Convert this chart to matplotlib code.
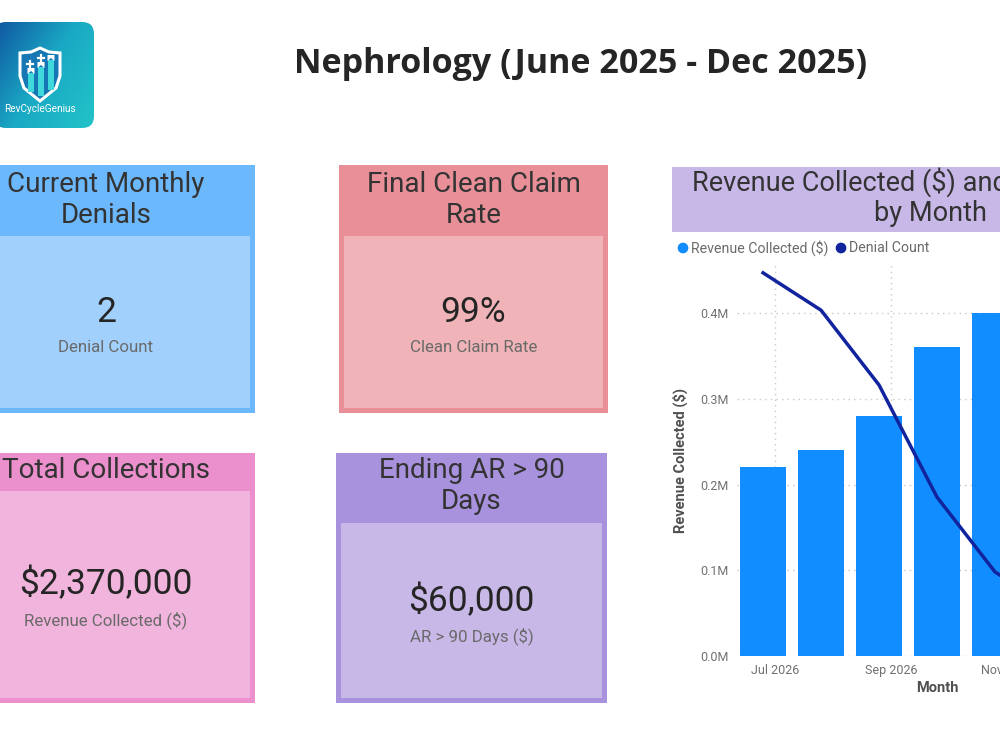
import numpy as np
import matplotlib
matplotlib.use('Agg')
import matplotlib.pyplot as plt
from matplotlib.patches import Rectangle, FancyBboxPatch, Polygon

# data
months        = ["Jul 2026", "Aug 2026", "Sep 2026", "Oct 2026",
                 "Nov 2026", "Dec 2026", "Jan 2027"]
revenue       = [220000, 240000, 280000, 360000, 400000, 420000, 450000]
denials       = [12, 11, 9, 6, 4, 3, 2]
tick_months   = ["Jul 2026", "Sep 2026", "Nov 2026", "Jan 2027"]
ytick_vals    = [0, 100000, 200000, 300000, 400000]
ytick_labels  = ["0.0M", "0.1M", "0.2M", "0.3M", "0.4M"]

card_titles = ["Current Monthly\nDenials", "Final Clean Claim\nRate",
               "Total Collections", "Ending AR > 90\nDays"]
card_values = ["2", "99%", "$2,370,000", "$60,000"]
card_subs   = ["Denial Count", "Clean Claim Rate",
               "Revenue Collected ($)", "AR > 90 Days ($)"]

BAR_COL  = '#118DFF'
LINE_COL = '#12239E'
TXT      = '#333333'
SUB      = '#6a6a6a'

W, H = 1000, 749
fig = plt.figure(figsize=(10, 7.49), dpi=100)
fig.patch.set_facecolor('white')

# overlay in pixel coords for cards / titles / logo
ov = fig.add_axes([0, 0, 1, 1])
ov.set_xlim(0, W)
ov.set_ylim(H, 0)
ov.axis('off')

# ---- logo ----
lx0, lx1, ly0, ly1 = -6, 94, 22, 128
box = FancyBboxPatch((lx0, ly0), lx1 - lx0, ly1 - ly0,
                     boxstyle="round,pad=0,rounding_size=12",
                     facecolor='none', edgecolor='none')
ov.add_patch(box)
gx, gy = np.meshgrid(np.linspace(0, 1, 60), np.linspace(0, 1, 60))
grad = 0.6 * gx + 0.4 * gy
cmap = matplotlib.colors.LinearSegmentedColormap.from_list(
    'logo', ['#0f55a0', '#1aa9c4', '#22c3c9'])
im = ov.imshow(grad, cmap=cmap, extent=(lx0, lx1, ly1, ly0),
               aspect='auto', zorder=1)
im.set_clip_path(box)

shield = [(40, 48), (49, 52), (60, 53), (60, 76), (56, 88),
          (40, 101), (24, 88), (20, 76), (20, 53), (31, 52)]
ov.add_patch(Polygon(shield, closed=True, facecolor='#1577b3',
                     edgecolor='white', linewidth=2.2, zorder=2))
for bx, top, bot in [(31, 73, 92), (41, 67, 96), (51, 60, 90)]:
    ov.add_patch(Rectangle((bx - 3, top), 6, bot - top,
                           facecolor='#3fd9dc', edgecolor='none', zorder=3))
    ov.add_patch(Polygon([(bx - 3.5, top - 5), (bx + 3.5, top - 5),
                          (bx + 3.5, top + 1), (bx, top - 2),
                          (bx - 3.5, top + 1)],
                         facecolor='white', edgecolor='none', zorder=4))
for cx, cy in [(30, 64), (41, 58)]:
    ov.plot([cx - 3, cx + 3], [cy, cy], color='white', lw=1.6, zorder=4)
    ov.plot([cx, cx], [cy - 3, cy + 3], color='white', lw=1.6, zorder=4)
ov.text(40, 109, "RevCycleGenius", color='white', fontsize=7.2,
        ha='center', va='center', family='Roboto', zorder=5)

# ---- main title ----
ov.text(581, 64, "Nephrology (June 2025 - Dec 2025)", fontsize=24.5,
        fontweight='bold', family='Open Sans', color='#252525',
        ha='center', va='center')


# ---- KPI cards ----
def draw_card(x0, x1, y0, hdr, y1, head_col, body_col, title, value, sub,
              title_y, value_y, sub_y):
    ov.add_patch(Rectangle((x0, y0), x1 - x0, y1 - y0,
                           facecolor=head_col, edgecolor='none'))
    ov.add_patch(Rectangle((x0 + 5, hdr), x1 - x0 - 10, y1 - hdr - 5,
                           facecolor=body_col, edgecolor='none'))
    cx = (x0 + x1) / 2
    ov.text(cx, title_y, title, fontsize=20, family='Roboto', color=TXT,
            ha='center', va='center', linespacing=1.22)
    ov.text(cx, value_y, value, fontsize=25.5, family='Roboto', color='#252525',
            ha='center', va='center')
    ov.text(cx, sub_y, sub, fontsize=12.2, family='Roboto', color=SUB,
            ha='center', va='center')


draw_card(-43, 255, 165, 236, 413, '#6cb8fd', '#a2d0fd',
          card_titles[0], card_values[0], card_subs[0], 200, 312, 348)
draw_card(339, 608, 165, 236, 413, '#e88f98', '#f0b4b8',
          card_titles[1], card_values[1], card_subs[1], 200, 312, 348)
draw_card(-43, 255, 453, 491, 703, '#ec8fcd', '#f1b4dc',
          card_titles[2], card_values[2], card_subs[2], 470, 584, 620)
draw_card(336, 607, 453, 523, 703, '#a992dd', '#c8b8e8',
          card_titles[3], card_values[3], card_subs[3], 486, 601, 636)

# ---- chart title box + legend ----
ov.add_patch(Rectangle((672, 167), 520, 65, facecolor='#c8b8e8',
                       edgecolor='none'))
ov.text(930, 197, "Revenue Collected ($) and Denial Count\nby Month",
        fontsize=19.5, family='Roboto', color=TXT, ha='center', va='center',
        linespacing=1.12)
ov.scatter([683, 841], [248, 248], s=45, c=[BAR_COL, LINE_COL], zorder=5)
ov.text(691, 248, "Revenue Collected ($)", fontsize=10.2, family='Roboto',
        color=SUB, va='center')
ov.text(849, 248, "Denial Count", fontsize=10.2, family='Roboto',
        color=SUB, va='center')

# ---- combo chart (extends past right edge, like the screenshot) ----
ax = fig.add_axes([737 / W, 1 - 656 / H, 400 / W, 391 / H])
ax.set_facecolor('none')
x = np.arange(len(months))
ax.bar(x, revenue, width=0.79, color=BAR_COL, zorder=2)
ax.set_xlim(-0.45, len(months) - 0.55)
ax.set_ylim(0, 456000)

tick_pos = [months.index(m) + 0.21 for m in tick_months]
ax.set_xticks(tick_pos)
ax.set_xticklabels(tick_months, fontsize=9, color='#707070', family='Roboto')
ax.set_yticks(ytick_vals)
ax.set_yticklabels(ytick_labels, fontsize=9, color='#707070', family='Roboto')
ax.tick_params(length=0, pad=6)
ax.grid(True, linestyle=(0, (1, 3)), color='#c8c8c8', linewidth=1)
ax.set_axisbelow(True)
for s in ax.spines.values():
    s.set_visible(False)
ax.set_xlabel("Month", fontsize=10.5, fontweight='bold', color='#505050',
              family='Roboto', labelpad=3)
ax.set_ylabel("Revenue Collected ($)", fontsize=10.5, fontweight='bold',
              color='#505050', family='Roboto', labelpad=9)

ax2 = ax.twinx()
ax2.plot(x, denials, color=LINE_COL, linewidth=2.5, zorder=3)
ax2.set_ylim(1.75, 12.21)
ax2.axis('off')

fig.savefig('out.png', dpi=100, facecolor='white')
